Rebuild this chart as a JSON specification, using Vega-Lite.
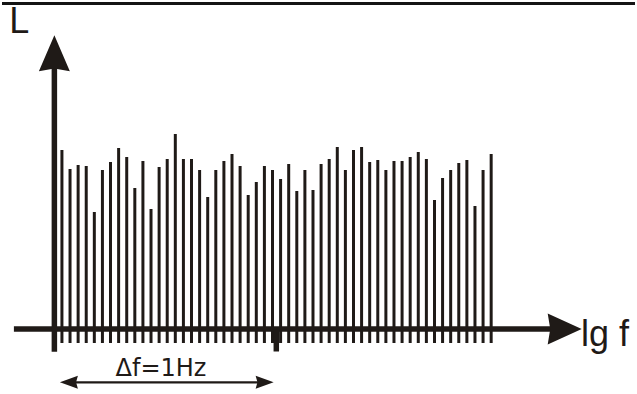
{
  "$schema": "https://vega.github.io/schema/vega-lite/v6.json",
  "width": 637,
  "height": 394,
  "padding": 0,
  "autosize": {"type": "fit", "contains": "padding"},
  "background": "white",
  "config": {"view": {"stroke": null}},
  "datasets": {
    "spectrum": [
      {"i": 0, "L": 179}, {"i": 1, "L": 160}, {"i": 2, "L": 164}, {"i": 3, "L": 163},
      {"i": 4, "L": 117}, {"i": 5, "L": 159}, {"i": 6, "L": 167}, {"i": 7, "L": 181},
      {"i": 8, "L": 172}, {"i": 9, "L": 141}, {"i": 10, "L": 168}, {"i": 11, "L": 120},
      {"i": 12, "L": 162}, {"i": 13, "L": 170}, {"i": 14, "L": 195}, {"i": 15, "L": 170},
      {"i": 16, "L": 170}, {"i": 17, "L": 159}, {"i": 18, "L": 132}, {"i": 19, "L": 159},
      {"i": 20, "L": 168}, {"i": 21, "L": 175}, {"i": 22, "L": 163}, {"i": 23, "L": 134},
      {"i": 24, "L": 147}, {"i": 25, "L": 163}, {"i": 26, "L": 159}, {"i": 27, "L": 150},
      {"i": 28, "L": 165}, {"i": 29, "L": 138}, {"i": 30, "L": 159}, {"i": 31, "L": 139},
      {"i": 32, "L": 165}, {"i": 33, "L": 170}, {"i": 34, "L": 182}, {"i": 35, "L": 159},
      {"i": 36, "L": 179}, {"i": 37, "L": 182}, {"i": 38, "L": 167}, {"i": 39, "L": 169},
      {"i": 40, "L": 159}, {"i": 41, "L": 168}, {"i": 42, "L": 168}, {"i": 43, "L": 172},
      {"i": 44, "L": 177}, {"i": 45, "L": 170}, {"i": 46, "L": 129}, {"i": 47, "L": 151},
      {"i": 48, "L": 159}, {"i": 49, "L": 166}, {"i": 50, "L": 169}, {"i": 51, "L": 123},
      {"i": 52, "L": 159}, {"i": 53, "L": 175}
    ]
  },
  "layer": [
    {
      "data": {"values": [{"x": -7.4, "x2": 70.76, "y": 325.5}]},
      "mark": {"type": "rule", "strokeWidth": 3, "color": "#141414"},
      "encoding": {
        "x": {"field": "x", "type": "quantitative", "scale": {"domain": [-7.4, 70.76], "nice": false, "zero": false}, "axis": null},
        "x2": {"field": "x2"},
        "y": {"field": "y", "type": "quantitative", "scale": {"domain": [-65, 329], "nice": false, "zero": false}, "axis": null}
      }
    },
    {
      "data": {"name": "spectrum"},
      "mark": {"type": "rule", "strokeWidth": 3, "color": "#1f1a17"},
      "encoding": {
        "x": {"field": "i", "type": "quantitative", "scale": {"domain": [-7.4, 70.76], "nice": false, "zero": false}, "axis": null},
        "y": {"field": "L", "type": "quantitative", "scale": {"domain": [-65, 329], "nice": false, "zero": false}, "axis": null},
        "y2": {"datum": -14}
      }
    },
    {
      "data": {"values": [{"x": -5.93, "x2": 61.3, "y": 0}]},
      "mark": {"type": "rule", "strokeWidth": 5.5, "color": "#1f1a17"},
      "encoding": {
        "x": {"field": "x", "type": "quantitative", "scale": {"domain": [-7.4, 70.76], "nice": false, "zero": false}, "axis": null},
        "x2": {"field": "x2"},
        "y": {"field": "y", "type": "quantitative", "scale": {"domain": [-65, 329], "nice": false, "zero": false}, "axis": null}
      }
    },
    {
      "data": {"values": [{"x": -0.933, "y": -22.7, "y2": 264}, {"x": 26.47, "y": -22.5, "y2": 0}]},
      "mark": {"type": "rule", "strokeWidth": 5.5, "color": "#1f1a17"},
      "encoding": {
        "x": {"field": "x", "type": "quantitative", "scale": {"domain": [-7.4, 70.76], "nice": false, "zero": false}, "axis": null},
        "y": {"field": "y", "type": "quantitative", "scale": {"domain": [-65, 329], "nice": false, "zero": false}, "axis": null},
        "y2": {"field": "y2"}
      }
    },
    {
      "data": {"values": [{"x": 0.6, "x2": 24.9, "y": -53.3}]},
      "mark": {"type": "rule", "strokeWidth": 2.2, "color": "#1f1a17"},
      "encoding": {
        "x": {"field": "x", "type": "quantitative", "scale": {"domain": [-7.4, 70.76], "nice": false, "zero": false}, "axis": null},
        "x2": {"field": "x2"},
        "y": {"field": "y", "type": "quantitative", "scale": {"domain": [-65, 329], "nice": false, "zero": false}, "axis": null}
      }
    },
    {
      "data": {"values": [{"x": -0.933, "y": 275.7}]},
      "mark": {"type": "point", "shape": "M0,-1L0.86,1L0,0.85L-0.86,1Z", "size": 1296, "angle": 0, "filled": true, "opacity": 1, "color": "#1f1a17"},
      "encoding": {
        "x": {"field": "x", "type": "quantitative", "scale": {"domain": [-7.4, 70.76], "nice": false, "zero": false}, "axis": null},
        "y": {"field": "y", "type": "quantitative", "scale": {"domain": [-65, 329], "nice": false, "zero": false}, "axis": null}
      }
    },
    {
      "data": {"values": [{"x": 62.08, "y": 0}]},
      "mark": {"type": "point", "shape": "M0,-1L0.91,1L0,0.85L-0.91,1Z", "size": 1156, "angle": 90, "filled": true, "opacity": 1, "color": "#1f1a17"},
      "encoding": {
        "x": {"field": "x", "type": "quantitative", "scale": {"domain": [-7.4, 70.76], "nice": false, "zero": false}, "axis": null},
        "y": {"field": "y", "type": "quantitative", "scale": {"domain": [-65, 329], "nice": false, "zero": false}, "axis": null}
      }
    },
    {
      "data": {"values": [{"x": 0.86, "y": -53.3}]},
      "mark": {"type": "point", "shape": "M0,-1L0.72,1L0,0.8L-0.72,1Z", "size": 324, "angle": 270, "filled": true, "opacity": 1, "color": "#1f1a17"},
      "encoding": {
        "x": {"field": "x", "type": "quantitative", "scale": {"domain": [-7.4, 70.76], "nice": false, "zero": false}, "axis": null},
        "y": {"field": "y", "type": "quantitative", "scale": {"domain": [-65, 329], "nice": false, "zero": false}, "axis": null}
      }
    },
    {
      "data": {"values": [{"x": 25.03, "y": -53.3}]},
      "mark": {"type": "point", "shape": "M0,-1L0.72,1L0,0.8L-0.72,1Z", "size": 324, "angle": 90, "filled": true, "opacity": 1, "color": "#1f1a17"},
      "encoding": {
        "x": {"field": "x", "type": "quantitative", "scale": {"domain": [-7.4, 70.76], "nice": false, "zero": false}, "axis": null},
        "y": {"field": "y", "type": "quantitative", "scale": {"domain": [-65, 329], "nice": false, "zero": false}, "axis": null}
      }
    },
    {
      "data": {"values": [{"x": -6.49, "y": 296.3, "t": "L"}, {"x": 64.1, "y": -16.5, "t": "lg f"}]},
      "mark": {"type": "text", "align": "left", "baseline": "alphabetic", "fontSize": 36, "font": "Liberation Sans", "color": "#1f1a17"},
      "encoding": {
        "x": {"field": "x", "type": "quantitative", "scale": {"domain": [-7.4, 70.76], "nice": false, "zero": false}, "axis": null},
        "y": {"field": "y", "type": "quantitative", "scale": {"domain": [-65, 329], "nice": false, "zero": false}, "axis": null},
        "text": {"field": "t"}
      }
    },
    {
      "data": {"values": [{"x": 12.23, "y": -47, "t": "Δf=1Hz"}]},
      "mark": {"type": "text", "align": "center", "baseline": "alphabetic", "fontSize": 24, "font": "DejaVu Sans", "color": "#1f1a17"},
      "encoding": {
        "x": {"field": "x", "type": "quantitative", "scale": {"domain": [-7.4, 70.76], "nice": false, "zero": false}, "axis": null},
        "y": {"field": "y", "type": "quantitative", "scale": {"domain": [-65, 329], "nice": false, "zero": false}, "axis": null},
        "text": {"field": "t"}
      }
    }
  ]
}
